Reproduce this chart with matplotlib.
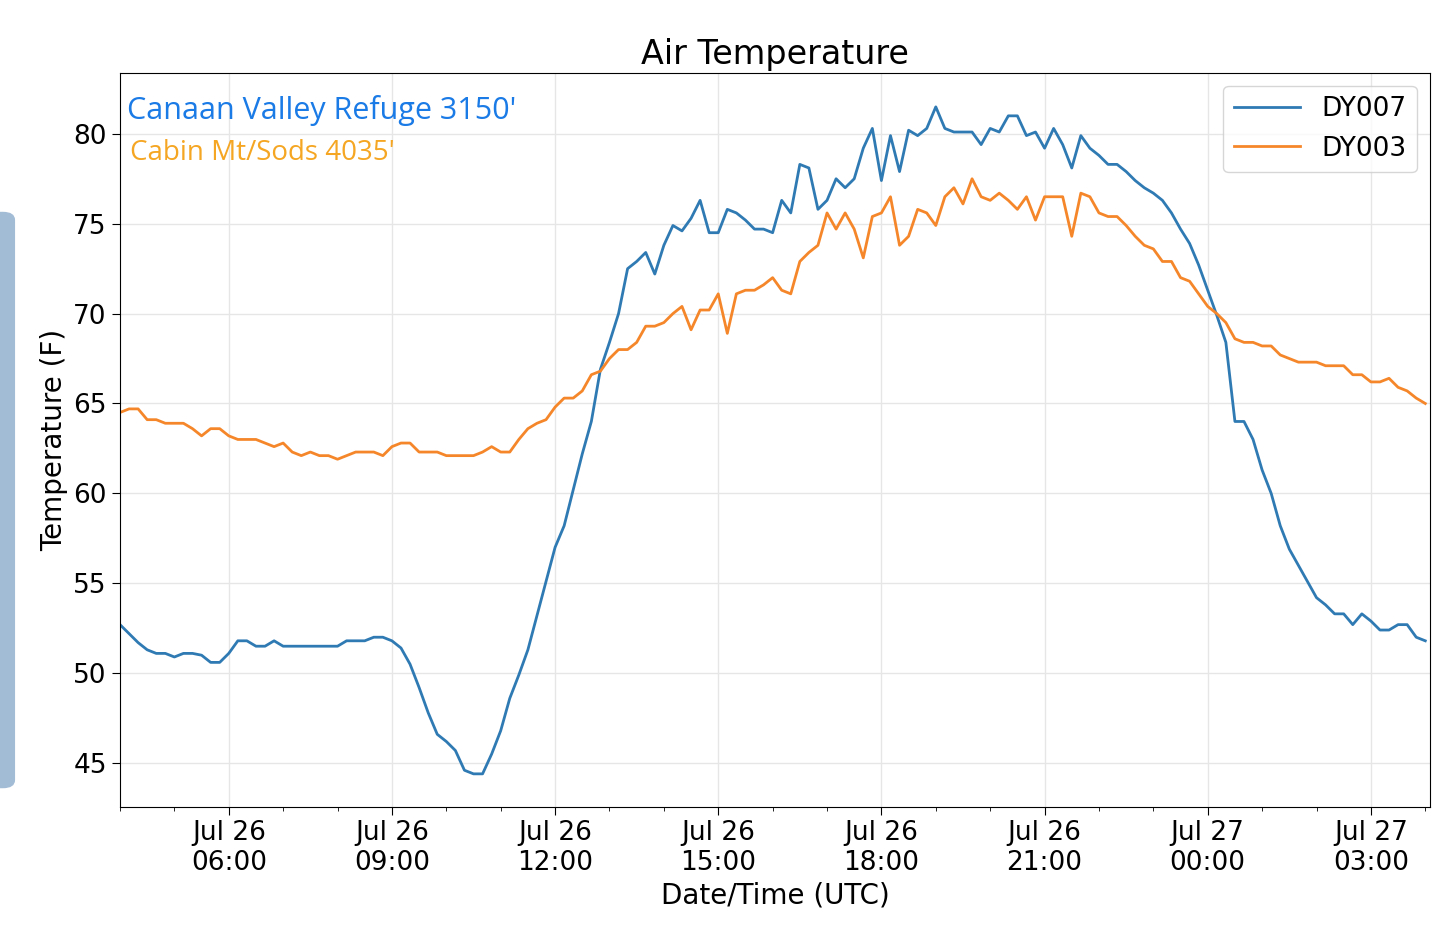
import numpy as np
import pandas as pd
import matplotlib
matplotlib.use("Agg")
import matplotlib.pyplot as plt
import matplotlib.dates as mdates
from matplotlib.patches import FancyBboxPatch

plt.rcParams['font.family'] = ['DejaVu Sans']

# 10-minute readings, Jul 26 04:00 UTC to Jul 27 04:00 UTC
times = pd.date_range('2019-07-26 04:00', '2019-07-27 04:00', freq='10min')

dy007 = [
    52.7, 52.2, 51.7, 51.3, 51.1, 51.1,
    50.9, 51.1, 51.1, 51.0, 50.6, 50.6,
    51.1, 51.8, 51.8, 51.5, 51.5, 51.8,
    51.5, 51.5, 51.5, 51.5, 51.5, 51.5,
    51.5, 51.8, 51.8, 51.8, 52.0, 52.0,
    51.8, 51.4, 50.5, 49.2, 47.8, 46.6,
    46.2, 45.7, 44.6, 44.4, 44.4, 45.5,
    46.8, 48.6, 49.9, 51.3, 53.2, 55.1,
    57.0, 58.2, 60.2, 62.2, 64.0, 66.9,
    68.4, 70.0, 72.5, 72.9, 73.4, 72.2,
    73.8, 74.9, 74.6, 75.3, 76.3, 74.5,
    74.5, 75.8, 75.6, 75.2, 74.7, 74.7,
    74.5, 76.3, 75.6, 78.3, 78.1, 75.8,
    76.3, 77.5, 77.0, 77.5, 79.2, 80.3,
    77.4, 79.9, 77.9, 80.2, 79.9, 80.3,
    81.5, 80.3, 80.1, 80.1, 80.1, 79.4,
    80.3, 80.1, 81.0, 81.0, 79.9, 80.1,
    79.2, 80.3, 79.4, 78.1, 79.9, 79.2,
    78.8, 78.3, 78.3, 77.9, 77.4, 77.0,
    76.7, 76.3, 75.6, 74.7, 73.9, 72.7,
    71.3, 69.9, 68.4, 64.0, 64.0, 63.0,
    61.3, 60.0, 58.2, 56.9, 56.0, 55.1,
    54.2, 53.8, 53.3, 53.3, 52.7, 53.3,
    52.9, 52.4, 52.4, 52.7, 52.7, 52.0,
    51.8,
]

dy003 = [
    64.5, 64.7, 64.7, 64.1, 64.1, 63.9,
    63.9, 63.9, 63.6, 63.2, 63.6, 63.6,
    63.2, 63.0, 63.0, 63.0, 62.8, 62.6,
    62.8, 62.3, 62.1, 62.3, 62.1, 62.1,
    61.9, 62.1, 62.3, 62.3, 62.3, 62.1,
    62.6, 62.8, 62.8, 62.3, 62.3, 62.3,
    62.1, 62.1, 62.1, 62.1, 62.3, 62.6,
    62.3, 62.3, 63.0, 63.6, 63.9, 64.1,
    64.8, 65.3, 65.3, 65.7, 66.6, 66.8,
    67.5, 68.0, 68.0, 68.4, 69.3, 69.3,
    69.5, 70.0, 70.4, 69.1, 70.2, 70.2,
    71.1, 68.9, 71.1, 71.3, 71.3, 71.6,
    72.0, 71.3, 71.1, 72.9, 73.4, 73.8,
    75.6, 74.7, 75.6, 74.7, 73.1, 75.4,
    75.6, 76.5, 73.8, 74.3, 75.8, 75.6,
    74.9, 76.5, 77.0, 76.1, 77.5, 76.5,
    76.3, 76.7, 76.3, 75.8, 76.5, 75.2,
    76.5, 76.5, 76.5, 74.3, 76.7, 76.5,
    75.6, 75.4, 75.4, 74.9, 74.3, 73.8,
    73.6, 72.9, 72.9, 72.0, 71.8, 71.1,
    70.4, 70.0, 69.5, 68.6, 68.4, 68.4,
    68.2, 68.2, 67.7, 67.5, 67.3, 67.3,
    67.3, 67.1, 67.1, 67.1, 66.6, 66.6,
    66.2, 66.2, 66.4, 65.9, 65.7, 65.3,
    65.0,
]

fig = plt.figure(figsize=(14.37, 9.32), dpi=100)
ax = fig.add_axes([0.0835, 0.134, 0.9115, 0.788])

ax.plot(times, dy007, color='#2f7ab3', lw=2, label='DY007')
ax.plot(times, dy003, color='#f5872a', lw=2, label='DY003')

ax.set_xlim(pd.Timestamp('2019-07-26 04:00'), pd.Timestamp('2019-07-27 04:05'))
ax.set_ylim(42.55, 83.4)
ax.xaxis.set_major_locator(mdates.HourLocator(byhour=[0, 3, 6, 9, 12, 15, 18, 21]))
ax.xaxis.set_minor_locator(mdates.HourLocator())
ax.xaxis.set_major_formatter(mdates.DateFormatter('%b %d\n%H:%M'))
ax.set_yticks([45, 50, 55, 60, 65, 70, 75, 80])
ax.tick_params(which='major', labelsize=19, length=6)
ax.tick_params(which='minor', length=3)
ax.grid(True, color='#e6e6e6', lw=1)

ax.set_title('Air Temperature', fontsize=24)
ax.set_xlabel('Date/Time (UTC)', fontsize=20)
ax.set_ylabel('Temperature (F)', fontsize=20)

ax.text(0.005, 0.97, "Canaan Valley Refuge 3150'", transform=ax.transAxes,
        color='#1a7ae6', fontsize=22, va='top', family='Open Sans')
ax.text(0.008, 0.91, "Cabin Mt/Sods 4035'", transform=ax.transAxes,
        color='#f5a623', fontsize=20, va='top', family='Open Sans')

leg = ax.legend(loc='upper right', fontsize=19, handlelength=2.5)

# side tab at the left edge
fig.patches.append(FancyBboxPatch((-0.01, 0.155), 0.02, 0.617,
                                  boxstyle='round,pad=0,rounding_size=0.008',
                                  transform=fig.transFigure, color='#a3bcd6'))

fig.savefig('out.png', dpi=100)
